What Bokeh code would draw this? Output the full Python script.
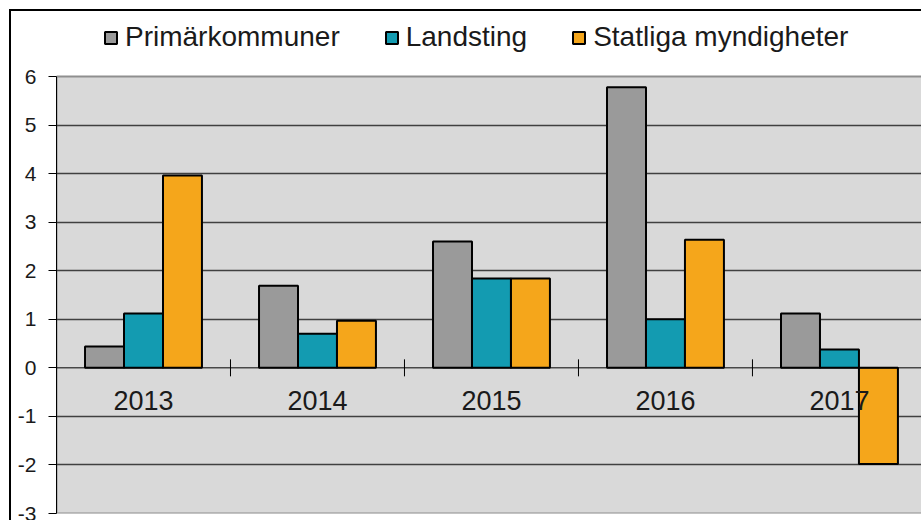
import math
from bokeh.plotting import figure
from bokeh.models import (Range1d, FixedTicker, Span, Legend, LegendItem,
                          ColumnDataSource)
from bokeh.core.properties import value
from bokeh.embed import file_html
from bokeh.resources import INLINE

years = ["2013", "2014", "2015", "2016", "2017"]
series_names = ["Primärkommuner", "Landsting", "Statliga myndigheter"]
primarkommuner = [0.44, 1.69, 2.60, 5.78, 1.12]
landsting = [1.12, 0.70, 1.84, 1.00, 0.38]
statliga = [3.96, 0.97, 1.84, 2.64, -1.98]
y_ticks = [-3, -2, -1, 0, 1, 2, 3, 4, 5, 6]

colors = ["#9a9a9a", "#139bb1", "#f5a61b"]
FONT = "Liberation Sans"
TXT = "#1a1a1a"

y_min, y_max = y_ticks[0], y_ticks[-1]
centers = [i + 0.5 for i in range(len(years))]
bar_w = 0.224
offsets = [-bar_w, 0.0, bar_w]
series = [primarkommuner, landsting, statliga]

# frame covers the legend strip too; plot area (y_min..y_max) is drawn as a grey box
p = figure(width=912, height=511, output_backend="svg", toolbar_location=None,
           x_axis_location=None, x_range=Range1d(0, 4.983),
           y_range=Range1d(y_min, y_max + 1.3387),
           min_border_left=45, min_border_top=0, min_border_bottom=9,
           min_border_right=0)
p.styles = {"margin-left": "9px", "margin-top": "9px",
            "border-left": "2px solid #000000", "border-top": "2px solid #000000"}

p.background_fill_color = "#ffffff"
p.border_fill_color = "#ffffff"
p.outline_line_color = None

# grey plot area
p.quad(left=[0], right=[len(years)], bottom=[y_min], top=[y_max],
       fill_color="#d9d9d9", line_color="#8f8f8f", line_width=2, level="image")

# grid
p.xgrid.visible = False
p.ygrid.ticker = FixedTicker(ticks=[t for t in y_ticks if t not in (0, y_min, y_max)])
p.ygrid.grid_line_color = "#404040"
p.ygrid.grid_line_width = 1.5

# y axis
ya = p.yaxis[0]
ya.ticker = FixedTicker(ticks=y_ticks)
ya.bounds = (y_min, y_max)
ya.major_label_overrides = {t: str(t) for t in y_ticks}
ya.axis_line_color = "#000000"
ya.axis_line_width = 1
ya.major_tick_line_color = "#000000"
ya.major_tick_out = 8
ya.major_tick_in = 0
ya.minor_tick_line_color = None
ya.major_label_text_font = FONT
ya.major_label_text_font_size = "21px"
ya.major_label_text_color = TXT
ya.major_label_standoff = 12

# zero line (category axis)
p.add_layout(Span(location=0, dimension="width", line_color="#000000", line_width=1))

renderers = []
for k, (vals, col) in enumerate(zip(series, colors)):
    src = ColumnDataSource(dict(x=[c + offsets[k] for c in centers], top=vals))
    r = p.vbar(x="x", top="top", bottom=0, width=bar_w, source=src,
               fill_color=col, line_color="#000000", line_width=2)
    renderers.append(r)

# category tick marks at category boundaries
bounds = [float(i) for i in range(1, len(years))]
p.scatter(x=bounds, y=[0] * len(bounds), marker="dash", angle=math.pi / 2, size=17,
          line_color="#000000", line_width=1)

# category labels
p.text(x=centers, y=[0] * len(years), text=years, text_font=value(FONT),
       text_font_size="27px", text_color=TXT, text_align="center",
       text_baseline="middle", y_offset=33)

legend = Legend(items=[LegendItem(label=series_names[k], renderers=[renderers[k]])
                       for k in range(3)],
                location=(47, 460), orientation="horizontal",
                padding=0, margin=0, spacing=44, border_line_color=None,
                background_fill_alpha=0, glyph_width=15, glyph_height=15,
                label_standoff=7, label_text_font=FONT, label_text_font_size="28px",
                label_text_color=TXT)
p.add_layout(legend, "center")

open("out.html", "w").write(file_html(p, INLINE))
